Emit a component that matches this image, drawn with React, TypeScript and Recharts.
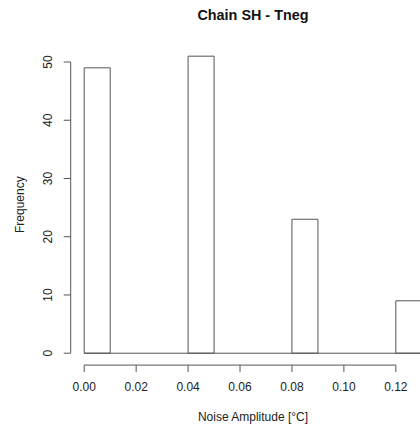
import React from 'react'
import {
  ComposedChart,
  Bar,
  XAxis,
  YAxis,
  ReferenceLine,
  Label,
} from 'recharts'

// histogram bins (left edges, width 0.01) and counts
const BIN_STARTS = [0.0, 0.01, 0.02, 0.03, 0.04, 0.05, 0.06, 0.07, 0.08, 0.09, 0.1, 0.11, 0.12]
const COUNTS = [49, 0, 0, 0, 51, 0, 0, 0, 23, 0, 0, 0, 9]
const BIN_WIDTH = 0.01
const X_TICKS = [0, 0.02, 0.04, 0.06, 0.08, 0.1, 0.12]
const Y_TICKS = [0, 10, 20, 30, 40, 50]

// R's default 4% axis padding
const X_DOMAIN: [number, number] = [-0.0052, 0.1352]
const Y_DOMAIN: [number, number] = [-2.04, 53.04]

const LINE = '#555'
const FONT = '"Liberation Sans", Arial, Helvetica, sans-serif'

const data = BIN_STARTS.map((start, i) => ({
  mid: start + BIN_WIDTH / 2,
  count: COUNTS[i],
}))

const XTick = ({ x, y, payload }: any) => (
  <text
    x={x}
    y={y + 14.6}
    textAnchor="middle"
    dominantBaseline="central"
    fontSize={12}
    fontFamily={FONT}
    fill="#222"
  >
    {payload.value.toFixed(2)}
  </text>
)

const YTick = ({ x, y, payload }: any) => {
  const cx = x - 15.4
  return (
    <text
      x={cx}
      y={y}
      transform={`rotate(-90 ${cx} ${y})`}
      textAnchor="middle"
      dominantBaseline="central"
      fontSize={12}
      fontFamily={FONT}
      fill="#222"
    >
      {payload.value}
    </text>
  )
}

export default function App() {
  return (
    <div
      style={{
        position: 'absolute',
        left: 0,
        top: 0,
        width: 420,
        height: 428,
        overflow: 'hidden',
        background: '#fff',
      }}
    >
      <div
        style={{
          position: 'absolute',
          left: 70.7,
          width: 364.6,
          top: 6,
          height: 18,
          lineHeight: '18px',
          textAlign: 'center',
          fontFamily: FONT,
          fontWeight: 'bold',
          fontSize: 14.4,
          color: '#111',
        }}
      >
        Chain SH - Tneg
      </div>
      <ComposedChart
        width={436}
        height={428}
        data={data}
        margin={{ top: 44.3, right: 0.7, bottom: 2.9, left: 0 }}
        barCategoryGap={0}
        barGap={0}
      >
        <XAxis
          dataKey="mid"
          type="number"
          domain={X_DOMAIN}
          allowDataOverflow
          ticks={X_TICKS}
          interval={0}
          height={60}
          axisLine={false}
          tickSize={7}
          tickMargin={0}
          tickLine={{ stroke: LINE }}
          tick={<XTick />}
        >
          <Label
            content={({ viewBox }: any) => (
              <text
                x={viewBox.x + viewBox.width / 2}
                y={416.7}
                textAnchor="middle"
                dominantBaseline="central"
                fontSize={12}
                fontFamily={FONT}
                fill="#222"
              >
                Noise Amplitude [°C]
              </text>
            )}
          />
        </XAxis>
        <YAxis
          type="number"
          domain={Y_DOMAIN}
          allowDataOverflow
          ticks={Y_TICKS}
          interval={0}
          width={70.7}
          axisLine={false}
          tickSize={7}
          tickMargin={0}
          tickLine={{ stroke: LINE }}
          tick={<YTick />}
        >
          <Label
            content={({ viewBox }: any) => {
              const cy = viewBox.y + viewBox.height / 2
              return (
                <text
                  x={20}
                  y={cy}
                  transform={`rotate(-90 20 ${cy})`}
                  textAnchor="middle"
                  dominantBaseline="central"
                  fontSize={12}
                  fontFamily={FONT}
                  fill="#222"
                >
                  Frequency
                </text>
              )
            }}
          />
        </YAxis>
        <Bar
          dataKey="count"
          fill="#fff"
          stroke={LINE}
          strokeWidth={1}
          isAnimationActive={false}
        />
        {/* zero-height bins show as a baseline */}
        <ReferenceLine
          segment={[
            { x: BIN_STARTS[0], y: 0 },
            { x: BIN_STARTS[BIN_STARTS.length - 1] + BIN_WIDTH, y: 0 },
          ]}
          stroke={LINE}
          ifOverflow="visible"
        />
        {/* R-style axis lines spanning only the tick range */}
        <ReferenceLine
          segment={[
            { x: X_TICKS[0], y: Y_DOMAIN[0] },
            { x: X_TICKS[X_TICKS.length - 1], y: Y_DOMAIN[0] },
          ]}
          stroke={LINE}
          ifOverflow="visible"
        />
        <ReferenceLine
          segment={[
            { x: X_DOMAIN[0], y: Y_TICKS[0] },
            { x: X_DOMAIN[0], y: Y_TICKS[Y_TICKS.length - 1] },
          ]}
          stroke={LINE}
          ifOverflow="visible"
        />
      </ComposedChart>
    </div>
  )
}
